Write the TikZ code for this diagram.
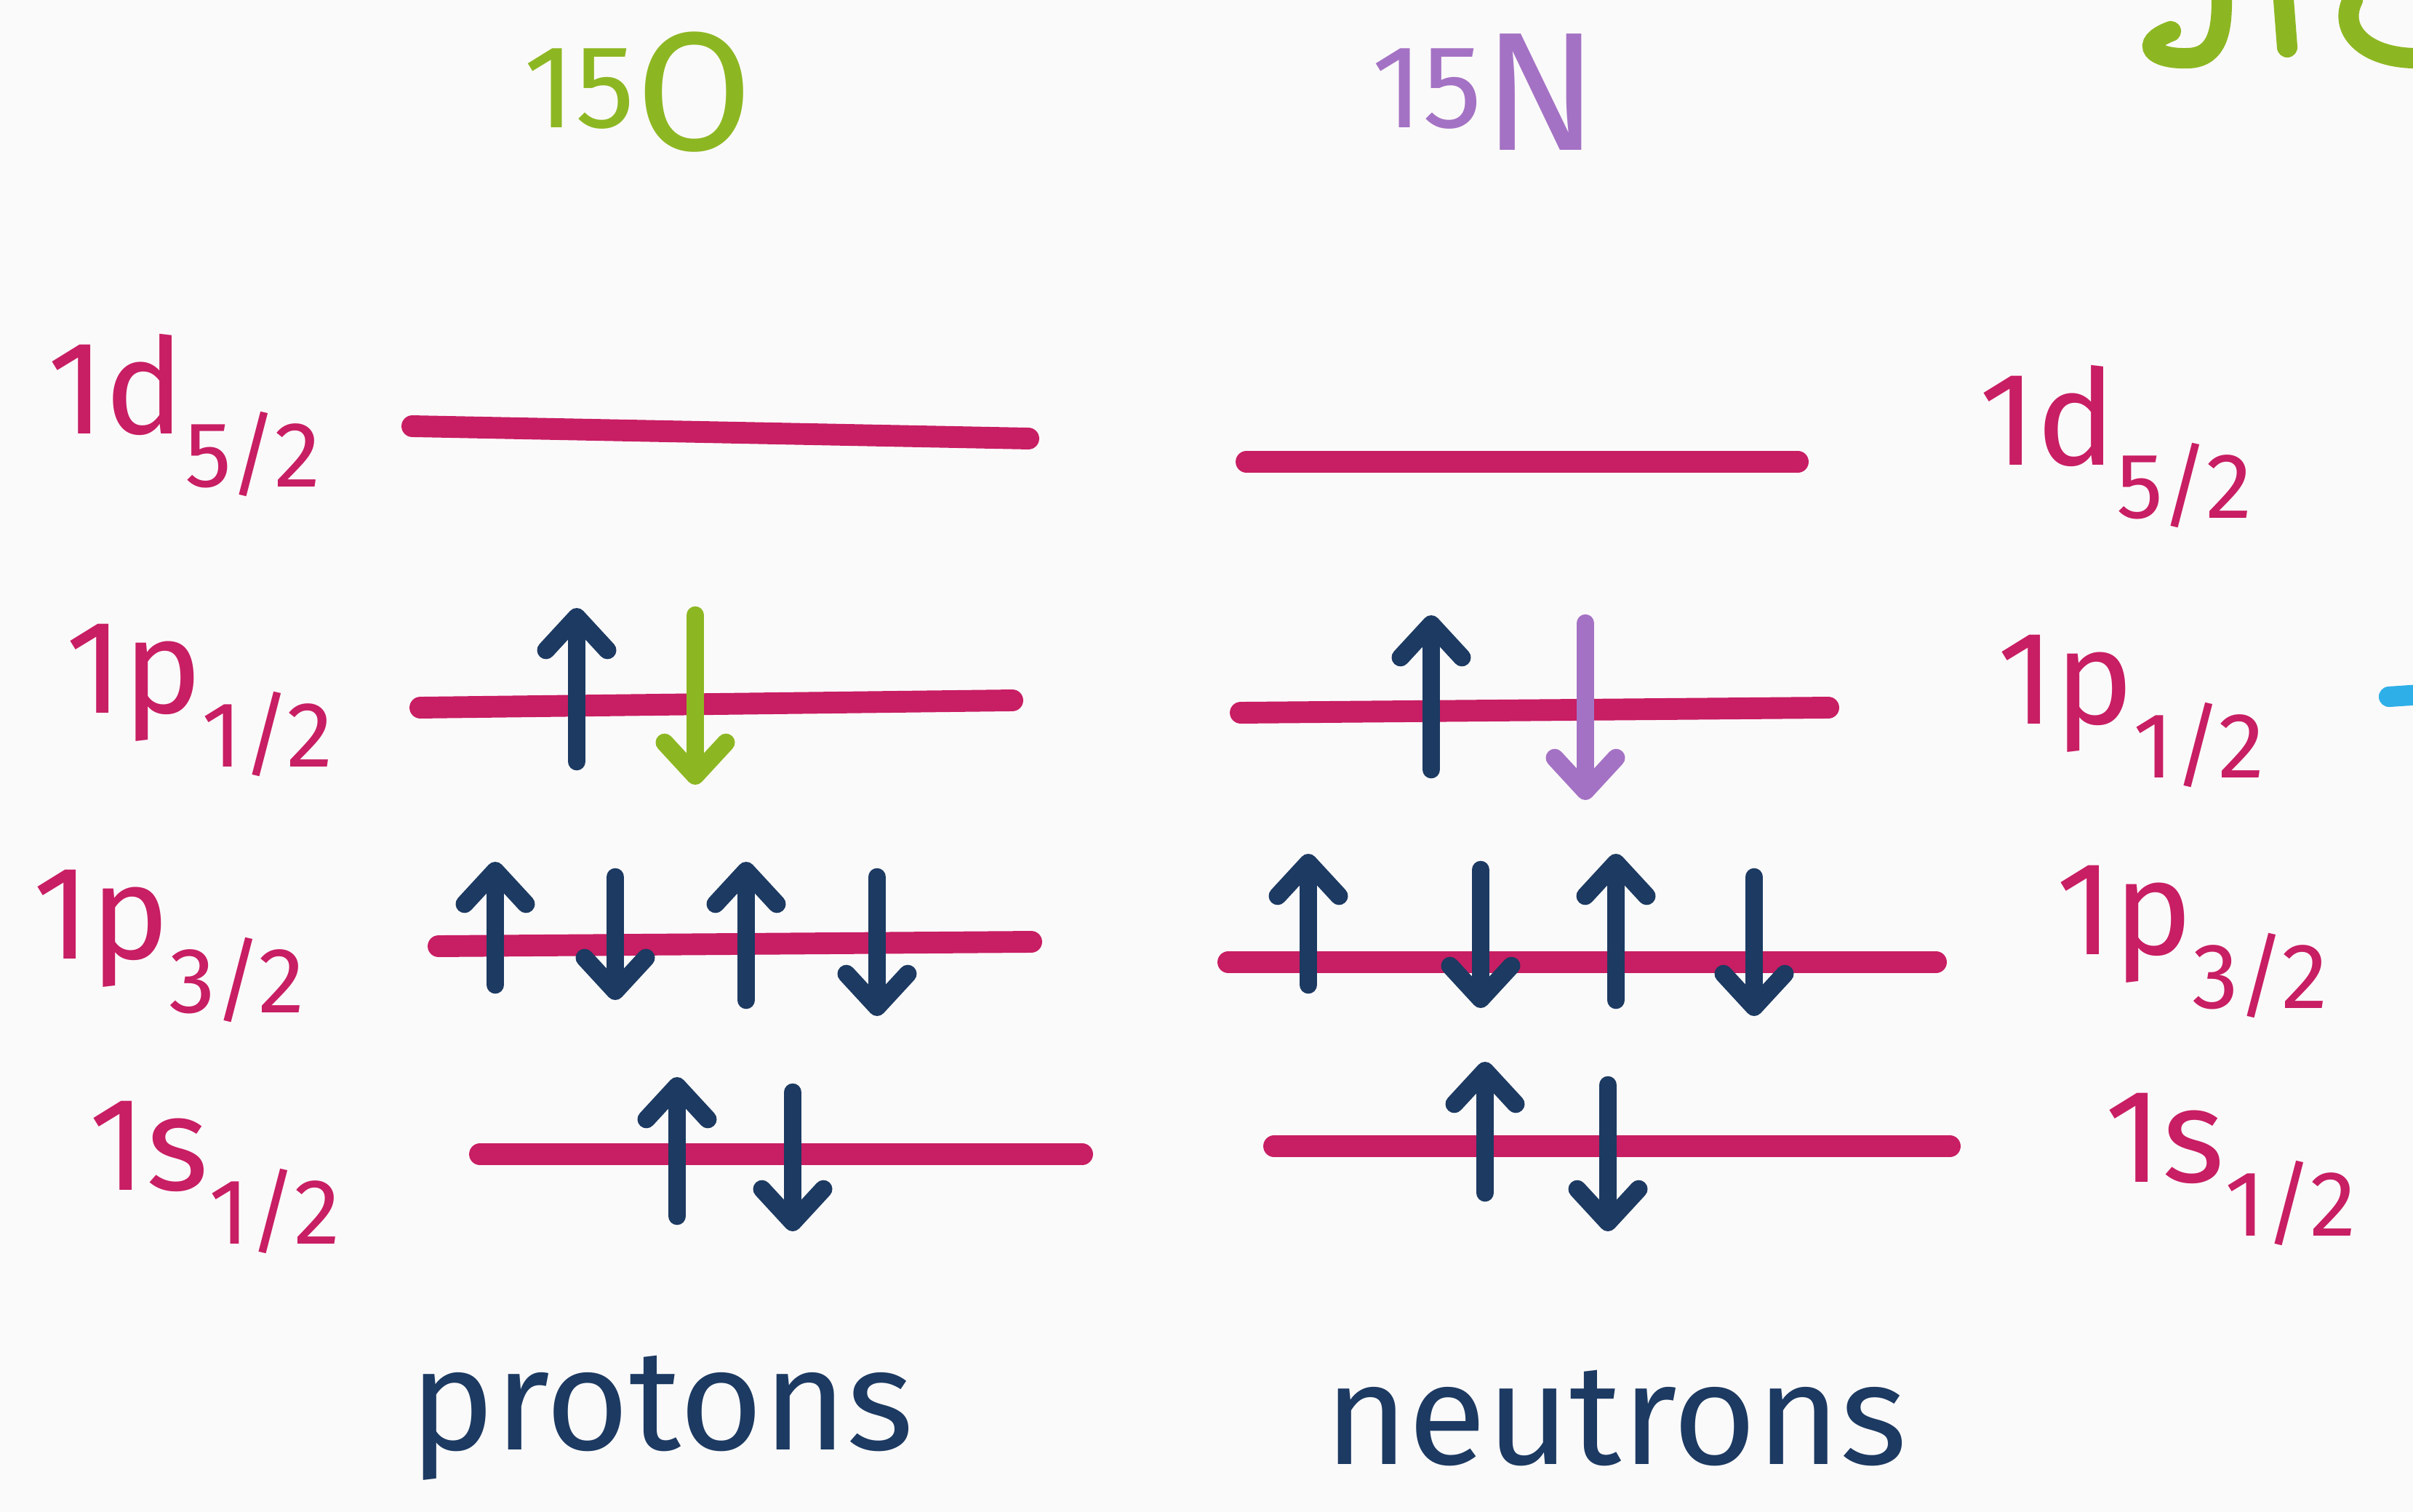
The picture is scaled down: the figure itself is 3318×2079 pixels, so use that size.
\documentclass[tikz,border=0pt]{standalone}
\usepackage{fontspec}
\setmainfont{Fira Sans}
\usetikzlibrary{arrows.meta}
\definecolor{LevelPink}{HTML}{C81E63}
\definecolor{SpinBlue}{HTML}{1C3A62}
\definecolor{OxyGreen}{HTML}{8DB722}
\definecolor{NitPurple}{HTML}{A472C4}
\definecolor{MarkBlue}{HTML}{2FAFE8}
\definecolor{Paper}{HTML}{FBFAFA}

\begin{document}
\begin{tikzpicture}[x=0.01cm, y=-0.01cm,
  level/.style={draw=LevelPink, line width=8.5pt, line cap=round},
  spin/.style={draw=SpinBlue, line width=7pt, line cap=round, -{Straight Barb[round, length=13pt, width=24pt]}},
  orb/.style={text=LevelPink, font=\fontsize{52}{52}\selectfont},
  nucl/.style={font=\fontsize{66}{66}\selectfont},
  who/.style={text=SpinBlue, font=\fontsize{56}{56}\selectfont}]
\fill[Paper] (0,0) rectangle (3318,2079);
\useasboundingbox (0,0) rectangle (3318,2079);

% nuclei
\node[nucl, text=OxyGreen] (oxy) at (878,127) {\textsuperscript{15}O};
\node[nucl, text=NitPurple] (nit) at (2042,127) {\textsuperscript{15}N};

% levels, protons then neutrons
\draw[level] (567,586) -- (1414,603);
\draw[level] (578,973) -- (1392,963);
\draw[level] (603,1301) -- (1418,1295);
\draw[level] (660,1587) -- (1488,1587);
\draw[level] (1714,635) -- (2472,635);
\draw[level] (1706,980) -- (2514,973);
\draw[level] (1689,1323) -- (2662,1323);
\draw[level] (1752,1576) -- (2681,1576);

% orbital labels
\node[orb] (pd52) at (254,571) {1d\textsubscript{5/2}};
\node[orb] (pp12) at (275,963) {1p\textsubscript{1/2}};
\node[orb] (pp32) at (233,1301) {1p\textsubscript{3/2}};
\node[orb] (ps12) at (296,1619) {1s\textsubscript{1/2}};
\node[orb] (nd52) at (2910,614) {1d\textsubscript{5/2}};
\node[orb] (np12) at (2931,978) {1p\textsubscript{1/2}};
\node[orb] (np32) at (3015,1295) {1p\textsubscript{3/2}};
\node[orb] (ns12) at (3068,1608) {1s\textsubscript{1/2}};

% spins up
\foreach \x/\a/\b in {793/1047/836, 681/1354/1185, 1026/1375/1185, 931/1672/1481,
  1968/1058/846, 1799/1354/1174, 2222/1375/1174, 2042/1640/1460}
  \draw[spin] (\x,\a) -- (\x,\b);
% spins down
\foreach \x/\a/\b in {846/1206/1375, 1206/1206/1397, 1090/1502/1693,
  2036/1196/1386, 2412/1206/1397, 2211/1492/1693}
  \draw[spin] (\x,\a) -- (\x,\b);
% odd nucleons
\draw[spin, draw=OxyGreen] (956,846) -- (956,1079);
\draw[spin, draw=NitPurple] (2180,857) -- (2180,1100);

\node[who] (prot) at (910,1950) {protons};
\node[who] (neut) at (2222,1950) {neutrons};

% cut-off marks at the right edge
\draw[OxyGreen, line width=8pt, line cap=round] (2985,43) .. controls (2940,60) and (2960,82) .. (3010,80) .. controls (3050,78) and (3055,40) .. (3055,0);
\draw[OxyGreen, line width=8pt, line cap=round] (3140,0) -- (3145,65);
\draw[OxyGreen, line width=8pt, line cap=round] (3235,0) .. controls (3215,40) and (3250,78) .. (3318,80);
\draw[MarkBlue, line width=8pt, line cap=round] (3285,958) -- (3330,955);
\end{tikzpicture}
\end{document}
